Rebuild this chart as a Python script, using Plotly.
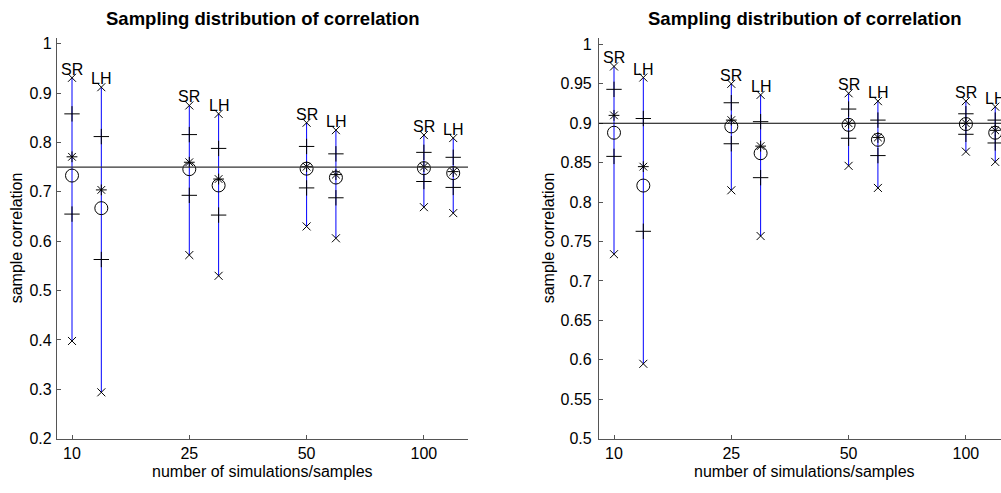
import plotly.graph_objects as go

# ---------------- data ----------------
n_labels = ["10", "25", "50", "100"]
cat_pos = [1, 2, 3, 4]
lh_offset = 0.25

# Left panel (true correlation 0.75)
rho_left = 0.75
sr_max_L = [0.931, 0.875, 0.840, 0.815]
sr_qhi_L = [0.858, 0.816, 0.792, 0.780]
sr_star_L = [0.771, 0.760, 0.751, 0.751]
sr_circ_L = [0.733, 0.746, 0.747, 0.748]
sr_qlo_L = [0.655, 0.693, 0.708, 0.721]
sr_min_L = [0.398, 0.572, 0.630, 0.669]

lh_max_L = [0.912, 0.858, 0.825, 0.809]
lh_qhi_L = [0.812, 0.788, 0.777, 0.770]
lh_star_L = [0.704, 0.726, 0.735, 0.741]
lh_circ_L = [0.667, 0.713, 0.729, 0.738]
lh_qlo_L = [0.563, 0.653, 0.688, 0.709]
lh_min_L = [0.294, 0.530, 0.606, 0.657]

# Right panel (true correlation 0.9)
rho_right = 0.9
sr_max_R = [0.972, 0.950, 0.938, 0.928]
sr_qhi_R = [0.943, 0.926, 0.918, 0.912]
sr_star_R = [0.910, 0.904, 0.900, 0.900]
sr_circ_R = [0.888, 0.896, 0.898, 0.899]
sr_qlo_R = [0.858, 0.874, 0.881, 0.886]
sr_min_R = [0.734, 0.815, 0.846, 0.864]

lh_max_R = [0.958, 0.936, 0.928, 0.921]
lh_qhi_R = [0.906, 0.902, 0.904, 0.904]
lh_star_R = [0.845, 0.871, 0.882, 0.891]
lh_circ_R = [0.821, 0.862, 0.879, 0.888]
lh_qlo_R = [0.763, 0.831, 0.859, 0.875]
lh_min_R = [0.595, 0.757, 0.818, 0.851]

yticks_L = [0.2, 0.3, 0.4, 0.5, 0.6, 0.7, 0.8, 0.9, 1.0]
yticks_R = [0.5, 0.55, 0.6, 0.65, 0.7, 0.75, 0.8, 0.85, 0.9, 0.95, 1.0]

title_text = "Sampling distribution of correlation"
xlabel_text = "number of simulations/samples"
ylabel_text = "sample correlation"

# ---------------- figure ----------------
W, H = 1001, 493
FONT = "Liberation Sans, Arial, Helvetica, sans-serif"
fig = go.Figure()


def fmt(v):
    s = ("%.2f" % v).rstrip("0").rstrip(".")
    return s


def add_group(xs, mx, qhi, star, circ, qlo, mn, label, xa, ya):
    # blue range line
    lx, ly = [], []
    for x, a, b in zip(xs, mn, mx):
        lx += [x, x, None]
        ly += [a, b, None]
    fig.add_trace(go.Scatter(x=lx, y=ly, mode="lines", xaxis=xa, yaxis=ya,
                             line=dict(color="rgb(0,0,255)", width=1),
                             hoverinfo="skip", showlegend=False))
    specs = [
        (mx, "x-thin-open", 8),
        (mn, "x-thin-open", 8),
        (qhi, "line-ew-open", 11),
        (qlo, "line-ew-open", 11),
        (qhi, "line-ns-open", 11),
        (qlo, "line-ns-open", 11),
        (star, "asterisk-open", 9),
        (circ, "circle-open", 13),
    ]
    for ys, sym, sz in specs:
        fig.add_trace(go.Scatter(x=xs, y=ys, mode="markers", xaxis=xa, yaxis=ya,
                                 marker=dict(symbol=sym, size=sz, color="black",
                                             line=dict(color="black", width=1)),
                                 showlegend=False))
    for x, y in zip(xs, mx):
        fig.add_annotation(x=x, y=y, xref=xa, yref=ya, text=label, showarrow=False,
                           yanchor="bottom", xanchor="center", yshift=-2,
                           font=dict(family=FONT, size=16, color="black"))


xs_sr = cat_pos
xs_lh = [p + lh_offset for p in cat_pos]

add_group(xs_sr, sr_max_L, sr_qhi_L, sr_star_L, sr_circ_L, sr_qlo_L, sr_min_L, "SR", "x", "y")
add_group(xs_lh, lh_max_L, lh_qhi_L, lh_star_L, lh_circ_L, lh_qlo_L, lh_min_L, "LH", "x", "y")
add_group(xs_sr, sr_max_R, sr_qhi_R, sr_star_R, sr_circ_R, sr_qlo_R, sr_min_R, "SR", "x2", "y2")
add_group(xs_lh, lh_max_R, lh_qhi_R, lh_star_R, lh_circ_R, lh_qlo_R, lh_min_R, "LH", "x2", "y2")

# reference lines
fig.add_shape(type="line", xref="x domain", yref="y", x0=0, x1=1, y0=rho_left, y1=rho_left,
              line=dict(color="#333333", width=1.2))
fig.add_shape(type="line", xref="x2 domain", yref="y2", x0=0, x1=1, y0=rho_right, y1=rho_right,
              line=dict(color="black", width=1))

# geometry (pixels)
axL_left, axL_right = 57, 468
axR_left, axR_right = 599, 1001
ax_top, ax_bot = 36.7, 446.7
px_per_cat = 117.3
tick1_L, tick1_R = 72, 614

xr_L = [1 + (axL_left - tick1_L) / px_per_cat, 1 + (axL_right - tick1_L) / px_per_cat]
xr_R = [1 + (axR_left - tick1_R) / px_per_cat, 1 + (axR_right - tick1_R) / px_per_cat]
yr_L = [0.2, 0.2 + (ax_bot - ax_top) / 505.0]
yr_R = [0.5, 0.5 + (ax_bot - ax_top) / 806.7]

ydom = [1 - ax_bot / H, 1 - ax_top / H]

axis_common = dict(showline=True, linecolor="#555555", linewidth=1.2, ticks="inside",
                   ticklen=4, tickcolor="#555555", showgrid=False, zeroline=False,
                   tickfont=dict(family=FONT, size=16, color="black"), fixedrange=True)

fig.update_layout(
    width=W, height=H,
    margin=dict(l=0, r=0, t=0, b=0),
    paper_bgcolor="white", plot_bgcolor="white",
    showlegend=False,
    xaxis=dict(domain=[axL_left / W, axL_right / W], range=xr_L, ticklabelstandoff=0,
               tickvals=cat_pos, ticktext=n_labels, anchor="y", **axis_common),
    yaxis=dict(domain=ydom, range=yr_L, tickvals=yticks_L,
               ticktext=[fmt(v) for v in yticks_L], ticklabelstandoff=1,
               anchor="x", **axis_common),
    xaxis2=dict(domain=[axR_left / W, axR_right / W], range=xr_R, ticklabelstandoff=0,
                tickvals=cat_pos, ticktext=n_labels, anchor="y2", **axis_common),
    yaxis2=dict(domain=ydom, range=yr_R, tickvals=yticks_R,
                ticktext=[fmt(v) for v in yticks_R], ticklabelstandoff=3,
                anchor="x2", **axis_common),
)

# titles and axis labels
centers = [(axL_left + axL_right) / 2, (axR_left + 1010) / 2]
ylab_x = [16, 548]
for cx, yx in zip(centers, ylab_x):
    fig.add_annotation(x=cx / W, y=1 - 16.7 / H, xref="paper", yref="paper",
                       text="<b>" + title_text + "</b>", showarrow=False,
                       xanchor="center", yanchor="middle",
                       font=dict(family=FONT, size=18.5, color="black"))
    fig.add_annotation(x=cx / W, y=1 - 480.5 / H, xref="paper", yref="paper",
                       text=xlabel_text, showarrow=False, xanchor="center", yanchor="middle",
                       font=dict(family=FONT, size=16, color="black"))
    fig.add_annotation(x=yx / W, y=1 - ((ax_top + ax_bot) / 2) / H, xref="paper", yref="paper",
                       text=ylabel_text, showarrow=False, textangle=-90,
                       xanchor="center", yanchor="middle",
                       font=dict(family=FONT, size=16, color="black"))

fig.write_html("out.html", config={"displayModeBar": False})
